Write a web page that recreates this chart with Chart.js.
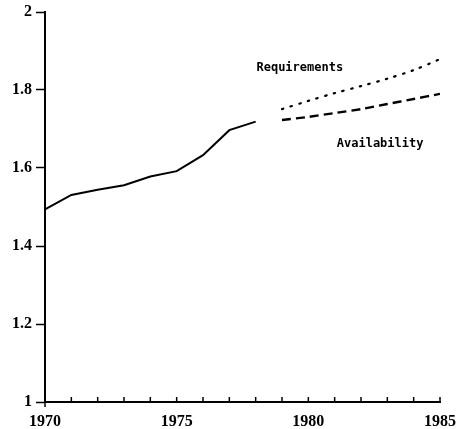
<!DOCTYPE html>
<html>
<head>
<meta charset="utf-8">
<script src="https://cdn.jsdelivr.net/npm/chart.js@4/dist/chart.umd.min.js"></script>
<style>
html,body{margin:0;padding:0;background:#fff;}
#wrap{width:461px;height:429px;position:relative;}
</style>
</head>
<body>
<div id="wrap"><canvas id="c" width="461" height="429"></canvas></div>
<script>
const histYears = [1970,1971,1972,1973,1974,1975,1976,1977,1978];
const histValues = [1.494,1.531,1.544,1.556,1.578,1.592,1.633,1.697,1.719];
const projYears = [1979,1980,1981,1982,1983,1984,1985];
const requirements = [1.751,1.772,1.792,1.810,1.829,1.851,1.879];
const availability = [1.723,1.731,1.741,1.751,1.764,1.777,1.790];
const xTickLabels = [1970,1975,1980,1985];
const yTicks = [1,1.2,1.4,1.6,1.8,2];
const seriesLabels = ["Requirements","Availability"];

const toXY = (xs, ys) => xs.map((x,i)=>({x:x,y:ys[i]}));

const annot = {
  id:'annot',
  afterDraw(chart){
    const {ctx, scales:{x,y}} = chart;
    ctx.save();
    ctx.strokeStyle='#000'; ctx.lineWidth=1.5;
    const yb = y.getPixelForValue(1);
    for(let yr=1971; yr<=1985; yr++){
      const px = x.getPixelForValue(yr);
      ctx.beginPath(); ctx.moveTo(px,yb); ctx.lineTo(px,yb-5); ctx.stroke();
    }
    const px0 = x.getPixelForValue(1970);
    ctx.beginPath(); ctx.moveTo(px0,yb); ctx.lineTo(px0,yb+5); ctx.stroke();
    ctx.fillStyle='#000';
    ctx.font='bold 12px "DejaVu Sans Mono"';
    ctx.textBaseline='middle'; ctx.textAlign='left';
    ctx.fillText(seriesLabels[0], x.getPixelForValue(1978.03), y.getPixelForValue(1.858));
    ctx.fillText(seriesLabels[1], x.getPixelForValue(1981.08), y.getPixelForValue(1.662));
    ctx.restore();
  }
};

new Chart(document.getElementById('c'), {
  type:'line',
  data:{
    datasets:[
      {data:toXY(histYears,histValues), borderColor:'#000', borderWidth:2, pointRadius:0, tension:0, fill:false},
      {data:toXY(projYears,requirements), borderColor:'#000', borderWidth:2.2, borderDash:[1.5,7.5], borderCapStyle:'round', pointRadius:0, tension:0.3, fill:false},
      {data:toXY(projYears,availability), borderColor:'#000', borderWidth:2.4, borderDash:[9,5], pointRadius:0, tension:0.2, fill:false}
    ]
  },
  options:{
    responsive:false,
    animation:false,
    layout:{padding:{left:0,right:21,top:12,bottom:0}},
    plugins:{legend:{display:false},tooltip:{enabled:false}},
    scales:{
      x:{
        type:'linear', min:1970, max:1985,
        afterBuildTicks:(s)=>{ s.ticks = xTickLabels.map(v=>({value:v})); },
        afterFit:(s)=>{ s.height = 27; s.paddingRight = 0; s.paddingLeft = 0; },
        grid:{display:true, drawOnChartArea:false, drawTicks:false, tickLength:0},
        border:{display:true,color:'#000',width:2},
        ticks:{color:'#000', padding:10, maxRotation:0, autoSkip:false,
          font:{family:'"Liberation Serif"', size:16, weight:'bold'},
          callback:(v)=>String(v)}
      },
      y:{
        type:'linear', min:1, max:2,
        afterBuildTicks:(s)=>{ s.ticks = yTicks.map(v=>({value:v})); },
        afterFit:(s)=>{ s.width = 45; s.paddingTop = 0; s.paddingBottom = 0; },
        grid:{display:true, drawOnChartArea:false, drawTicks:true, tickLength:9, color:'#000', tickColor:'#000', tickWidth:1.5},
        border:{display:true,color:'#000',width:2},
        ticks:{color:'#000', padding:4, autoSkip:false,
          font:{family:'"Liberation Serif"', size:16, weight:'bold'},
          callback:(v)=>String(v)}
      }
    }
  },
  plugins:[annot]
});
</script>
</body>
</html>
